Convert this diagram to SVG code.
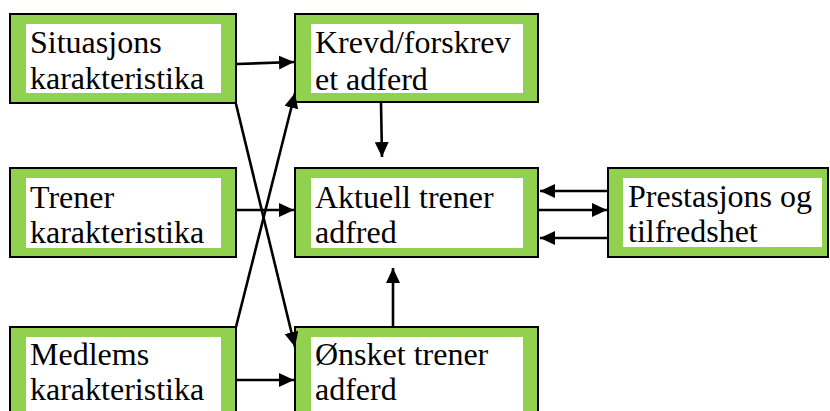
<svg xmlns="http://www.w3.org/2000/svg" width="830" height="411" viewBox="0 0 830 411">
  <style>
    .frame { fill: #92D050; stroke: #000; stroke-width: 2; }
    .inner { fill: #fff; stroke: none; }
    .label { font-family: 'Liberation Serif', 'Times New Roman', serif; font-size: 32px; fill: #000; }
    .link { stroke: #000; stroke-width: 2.6; fill: none; marker-end: url(#head); }
  </style>
  <defs>
    <marker id="head" viewBox="0 0 15 14" refX="15" refY="7" markerWidth="15" markerHeight="14" markerUnits="userSpaceOnUse" orient="auto">
      <path d="M0,0 L15,7 L0,14 Z" fill="#000"/>
    </marker>
  </defs>
  <rect width="830" height="411" fill="#fff"/>

  <g id="situasjons">
    <rect class="frame" x="10" y="14" width="226" height="89"/>
    <rect class="inner" x="26" y="24" width="195" height="69"/>
    <text class="label" x="30" y="53">Situasjons</text>
    <text class="label" x="30" y="89">karakteristika</text>
  </g>

  <g id="krevd">
    <rect class="frame" x="295" y="14" width="243" height="88"/>
    <rect class="inner" x="311" y="24" width="212" height="69"/>
    <text class="label" x="315" y="53">Krevd/forskrev</text>
    <text class="label" x="315" y="90">et adferd</text>
  </g>

  <g id="trener">
    <rect class="frame" x="10" y="168" width="226" height="89"/>
    <rect class="inner" x="26" y="178" width="195" height="70"/>
    <text class="label" x="30" y="208">Trener</text>
    <text class="label" x="30" y="243">karakteristika</text>
  </g>

  <g id="aktuell">
    <rect class="frame" x="295" y="168" width="243" height="89"/>
    <rect class="inner" x="311" y="178" width="212" height="70"/>
    <text class="label" x="315" y="208">Aktuell trener</text>
    <text class="label" x="315" y="243">adfred</text>
  </g>

  <g id="prestasjons">
    <rect class="frame" x="608" y="168" width="220" height="89"/>
    <rect class="inner" x="623" y="178" width="199" height="69"/>
    <text class="label" x="628" y="207">Prestasjons og</text>
    <text class="label" x="628" y="242">tilfredshet</text>
  </g>

  <g id="medlems">
    <rect class="frame" x="10" y="327" width="226" height="100"/>
    <rect class="inner" x="26" y="337" width="195" height="80"/>
    <text class="label" x="30" y="365">Medlems</text>
    <text class="label" x="30" y="400">karakteristika</text>
  </g>

  <g id="onsket">
    <rect class="frame" x="295" y="327" width="243" height="100"/>
    <rect class="inner" x="311" y="337" width="212" height="80"/>
    <text class="label" x="315" y="365">Ønsket trener</text>
    <text class="label" x="315" y="400">adferd</text>
  </g>

  <g id="connectors">
    <line class="link" x1="237" y1="64" x2="294" y2="62"/>
    <line class="link" x1="381" y1="103" x2="382" y2="157"/>
    <line class="link" x1="237" y1="210" x2="294" y2="210"/>
    <line class="link" x1="237" y1="380" x2="294" y2="380"/>
    <line class="link" x1="393" y1="326" x2="393" y2="268"/>
    <line class="link" x1="607" y1="191" x2="540" y2="191"/>
    <line class="link" x1="539" y1="210" x2="607" y2="210"/>
    <line class="link" x1="607" y1="238" x2="540" y2="238"/>
    <line class="link" x1="236" y1="104" x2="295" y2="347"/>
    <line class="link" x1="236" y1="327" x2="295" y2="93"/>
  </g>
</svg>
